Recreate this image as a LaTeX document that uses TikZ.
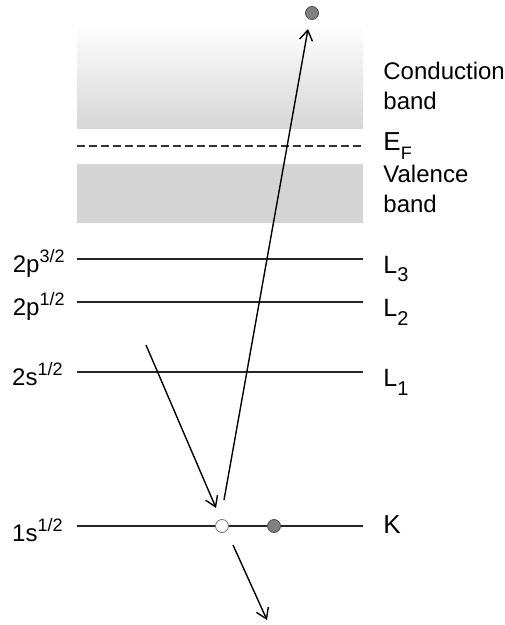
\documentclass[tikz,border=0pt]{standalone}
\usepackage{fontspec}
\setmainfont{Liberation Sans}
\usetikzlibrary{arrows.meta, positioning}

\newcommand{\supx}[1]{\raisebox{5pt}{\fontsize{9}{10}\selectfont #1}}
\newcommand{\subx}[1]{\raisebox{-4.5pt}{\fontsize{10}{10}\selectfont #1}}

\begin{document}
\begin{tikzpicture}[
  x=0.5pt, y=-0.5pt,
  level/.style={draw=black!85, line width=0.55pt},
  lbl/.style={font=\fontsize{12}{15}\selectfont, inner sep=0pt, align=left},
  shell/.style={lbl, font=\fontsize{12}{15}\selectfont},
  edge/.style={lbl, font=\fontsize{12.5}{15}\selectfont},
  elec/.style={circle, draw=black!70, fill=black!50, minimum size=6.5pt, inner sep=0pt},
  hole/.style={circle, draw=black!55, fill=white, minimum size=6.5pt, inner sep=0pt},
  arrow/.style={-{Straight Barb[length=5pt,width=6.5pt]}, line width=0.7pt}
]
\useasboundingbox (0,0) rectangle (504,625);

% bands and Fermi level
\shade[top color=white, bottom color=black!16] (77,22) rectangle (363,129);
\fill[black!17] (77,164) rectangle (363,223);
\draw[black!80, line width=0.7pt, dash pattern=on 4pt off 2pt] (77,146) -- (363,146);

\node[lbl, anchor=base west] (cb) at (383,110) {Conduction\\band};
\node[lbl, anchor=base west, font=\fontsize{13}{15}\selectfont] (ef) at (383,151) {E\subx{\fontsize{9}{10}\selectfont F}};
\node[lbl, anchor=base west] (vb) at (383,213) {Valence\\band};

% core levels
\coordinate (l3a) at (77,259);  \coordinate (l3b) at (363,259);
\coordinate (l2a) at (77,302);  \coordinate (l2b) at (363,302);
\coordinate (l1a) at (77,372);  \coordinate (l1b) at (363,372);
\coordinate (ka)  at (77,526);  \coordinate (kb)  at (363,526);

\draw[level] (l3a) -- (l3b);
\draw[level] (l2a) -- (l2b);
\draw[level] (l1a) -- (l1b);
\draw[level] (ka) -- (kb);

\node[shell, anchor=base east] (s3) at (65,272) {2p\supx{3/2}};
\node[shell, anchor=base east] (s2) at (65,315) {2p\supx{1/2}};
\node[shell, anchor=base east] (s1) at (63,385) {2s\supx{1/2}};
\node[shell, anchor=base east] (s0) at (63,541) {1s\supx{1/2}};

\node[edge, anchor=base west] (n3) at (383,273) {L\subx{3}};
\node[edge, anchor=base west] (n2) at (383,316) {L\subx{2}};
\node[edge, anchor=base west] (n1) at (383,386) {L\subx{1}};
\node[edge, anchor=base west, font=\fontsize{13}{15}\selectfont] (n0) at (383,533) {K};

% electrons and hole
\node[hole] (hole) at (222,526) {};
\node[elec] (ek) at (274,526) {};
\node[elec] (eout) at (312,13) {};

% transitions
\coordinate (inA) at (146,345);
\coordinate (inB) at (216,508);
\coordinate (upA) at (224,500);
\coordinate (upB) at (308,29);
\coordinate (dnA) at (233,545);
\coordinate (dnB) at (267,620);

\draw[arrow] (inA) -- (inB);
\draw[arrow] (upA) -- (upB);
\draw[arrow] (dnA) -- (dnB);
\end{tikzpicture}
\end{document}
